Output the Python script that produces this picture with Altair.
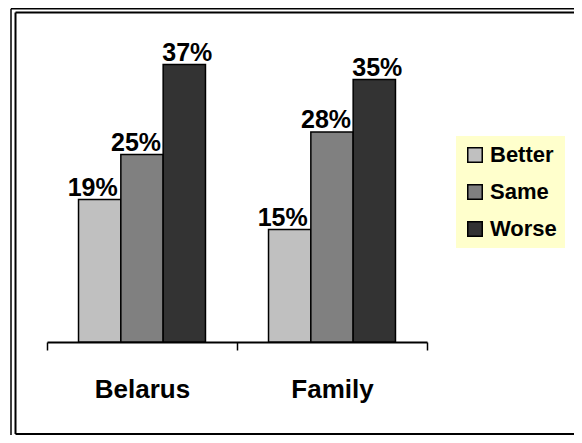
import altair as alt
import pandas as pd

categories = ["Belarus", "Family"]
series = ["Better", "Same", "Worse"]
belarus_values = [19, 25, 37]
family_values = [15, 28, 35]
colors = ["#C0C0C0", "#808080", "#333333"]

rows = []
for cat, vals in zip(categories, [belarus_values, family_values]):
    for s, v in zip(series, vals):
        rows.append({"category": cat, "series": s, "value": v})
df = pd.DataFrame(rows)

FONT = "Liberation Sans"

x_enc = alt.X(
    "category:N",
    sort=categories,
    title=None,
    scale=alt.Scale(paddingInner=0, paddingOuter=0),
    axis=alt.Axis(
        labelAngle=0,
        tickBand="extent",
        domainColor="black",
        domainWidth=2,
        tickColor="black",
        tickWidth=1.5,
        tickSize=8,
        labelFontSize=26,
        labelFontWeight="bold",
        labelFont=FONT,
        labelColor="black",
        labelPadding=26,
        grid=False,
    ),
)
y_enc = alt.Y("value:Q", scale=alt.Scale(domain=[0, 40]), axis=None)
xoff = alt.XOffset(
    "series:N", sort=series, scale=alt.Scale(paddingInner=0, paddingOuter=0.745)
)

color_enc = alt.Color(
    "series:N",
    sort=series,
    scale=alt.Scale(domain=series, range=colors),
    legend=alt.Legend(
        title=None,
        orient="none",
        legendX=409,
        legendY=94,
        fillColor="#FFFFCC",
        padding=8,
        rowPadding=15,
        symbolType="square",
        symbolSize=210,
        symbolStrokeColor="black",
        symbolStrokeWidth=1.5,
        symbolOpacity=1,
        labelFont=FONT,
        labelFontSize=22,
        labelFontWeight="bold",
        labelColor="black",
        labelOffset=4,
        labelLimit=200,
    ),
)

base = alt.Chart(df)

bars = base.mark_bar(stroke="black", strokeWidth=1.5, opacity=1).encode(
    x=x_enc, xOffset=xoff, y=y_enc, color=color_enc
)

label_dx = {"Better": -7, "Same": -6, "Worse": 3}
texts = []
for s in series:
    t = (
        base.transform_filter(alt.datum.series == s)
        .transform_calculate(label="datum.value + '%'")
        .mark_text(
            font=FONT,
            fontSize=25,
            fontWeight="bold",
            color="black",
            baseline="alphabetic",
            dy=-4,
            dx=label_dx[s],
        )
        .encode(x=x_enc, xOffset=xoff, y=y_enc, text="label:N")
    )
    texts.append(t)

frame_df = pd.DataFrame({"k": [0]})


def frame_line(width, **enc):
    return alt.Chart(frame_df).mark_rule(color="black", strokeWidth=width).encode(**enc)


frame = [
    # outer frame (top, left)
    frame_line(1.5, x=alt.value(-36), x2=alt.value(560), y=alt.value(-33.2)),
    frame_line(1.5, x=alt.value(-36), y=alt.value(-33.2), y2=alt.value(500)),
    # inner frame (top, left, bottom)
    frame_line(2, x=alt.value(-31.5), x2=alt.value(560), y=alt.value(-29.5)),
    frame_line(2, x=alt.value(-31.5), y=alt.value(-29.5), y2=alt.value(392)),
    frame_line(2, x=alt.value(-31.5), x2=alt.value(560), y=alt.value(392)),
]

chart = (
    alt.layer(*frame, bars, *texts)
    .properties(
        width=380,
        height=300,
        autosize="none",
        padding={"left": 39, "top": 34, "right": 147, "bottom": 93},
        background="white",
    )
    .configure_view(strokeWidth=0, stroke="transparent")
)

chart.save("out.html", embed_options={"renderer": "svg", "actions": False})
